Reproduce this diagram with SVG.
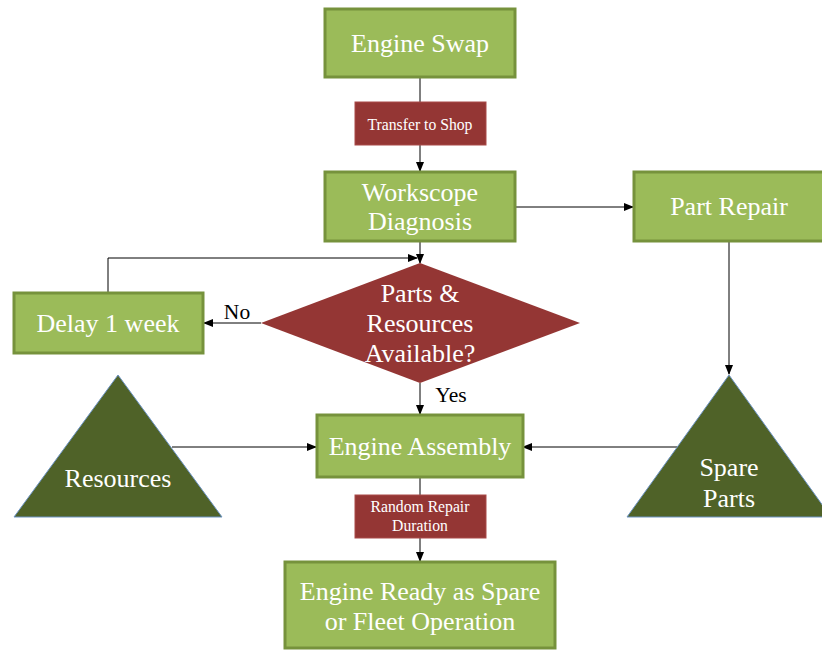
<svg xmlns="http://www.w3.org/2000/svg" width="822" height="650" viewBox="0 0 822 650">
<style>
.box{fill:#9BBB59;stroke:#76923C;stroke-width:3}
.red{fill:#943634;stroke:#A94A48;stroke-width:1}
.tri{fill:#4F6228;stroke:#6C93C3;stroke-width:1}
.t{font-family:"Liberation Serif","Times New Roman",serif;font-size:26px;fill:#FFFFFF;text-anchor:middle}
.s{font-family:"Liberation Serif","Times New Roman",serif;font-size:15.7px;fill:#FFFFFF;text-anchor:middle}
.l{font-family:"Liberation Serif","Times New Roman",serif;font-size:21.5px;fill:#000000;text-anchor:middle}
.c{fill:none;stroke:#000000;stroke-width:1}
</style>
<defs>
<marker id="a" markerWidth="10" markerHeight="8" refX="9" refY="4" orient="auto" markerUnits="userSpaceOnUse">
<path d="M0,0 L10,4 L0,8 Z" fill="#000000"/>
</marker>
</defs>
<g id="connectors">
<path class="c" d="M420,77 V171" marker-end="url(#a)"/>
<path class="c" d="M515,207 H633" marker-end="url(#a)"/>
<path class="c" d="M420,241 V263" marker-end="url(#a)"/>
<path class="c" d="M108,292 V258 H417" marker-end="url(#a)"/>
<path class="c" d="M261,323 H204" marker-end="url(#a)"/>
<path class="c" d="M420,383 V414" marker-end="url(#a)"/>
<path class="c" d="M729,241 V374" marker-end="url(#a)"/>
<path class="c" d="M172,447 H316" marker-end="url(#a)"/>
<path class="c" d="M677,447 H523" marker-end="url(#a)"/>
<path class="c" d="M420,477 V561" marker-end="url(#a)"/>
<text class="l" x="237" y="319">No</text>
<text class="l" x="451" y="402">Yes</text>
</g>
<g id="engine-swap">
<rect class="box" x="325" y="9" width="190" height="68"/>
<text class="t" x="420" y="52">Engine Swap</text>
</g>
<g id="transfer-to-shop">
<rect class="red" x="355" y="102" width="131" height="43"/>
<text class="s" x="420" y="130">Transfer to Shop</text>
</g>
<g id="workscope-diagnosis">
<rect class="box" x="325" y="172" width="190" height="69"/>
<text class="t" x="420" y="201">Workscope</text>
<text class="t" x="420" y="230">Diagnosis</text>
</g>
<g id="part-repair">
<rect class="box" x="634" y="172" width="190" height="69"/>
<text class="t" x="729" y="215">Part Repair</text>
</g>
<g id="decision">
<polygon points="420,263 580,323 420,383 261,323" fill="#943634"/>
<text class="t" x="420" y="302">Parts &amp;</text>
<text class="t" x="420" y="332">Resources</text>
<text class="t" x="420" y="362">Available?</text>
</g>
<g id="delay">
<rect class="box" x="14" y="293" width="189" height="60"/>
<text class="t" x="108" y="332">Delay 1 week</text>
</g>
<g id="resources">
<polygon class="tri" points="118,375 222,517 14,517"/>
<text class="t" x="118" y="487">Resources</text>
</g>
<g id="spare-parts">
<polygon class="tri" points="729,375 831,517 627,517"/>
<text class="t" x="729" y="476">Spare</text>
<text class="t" x="729" y="507">Parts</text>
</g>
<g id="engine-assembly">
<rect class="box" x="317" y="415" width="206" height="62"/>
<text class="t" x="420" y="455">Engine Assembly</text>
</g>
<g id="random-repair">
<rect class="red" x="355" y="495" width="131" height="43"/>
<text class="s" x="420" y="512">Random Repair</text>
<text class="s" x="420" y="531">Duration</text>
</g>
<g id="engine-ready">
<rect class="box" x="285" y="562" width="270" height="86"/>
<text class="t" x="420" y="600">Engine Ready as Spare</text>
<text class="t" x="420" y="630">or Fleet Operation</text>
</g>
</svg>
